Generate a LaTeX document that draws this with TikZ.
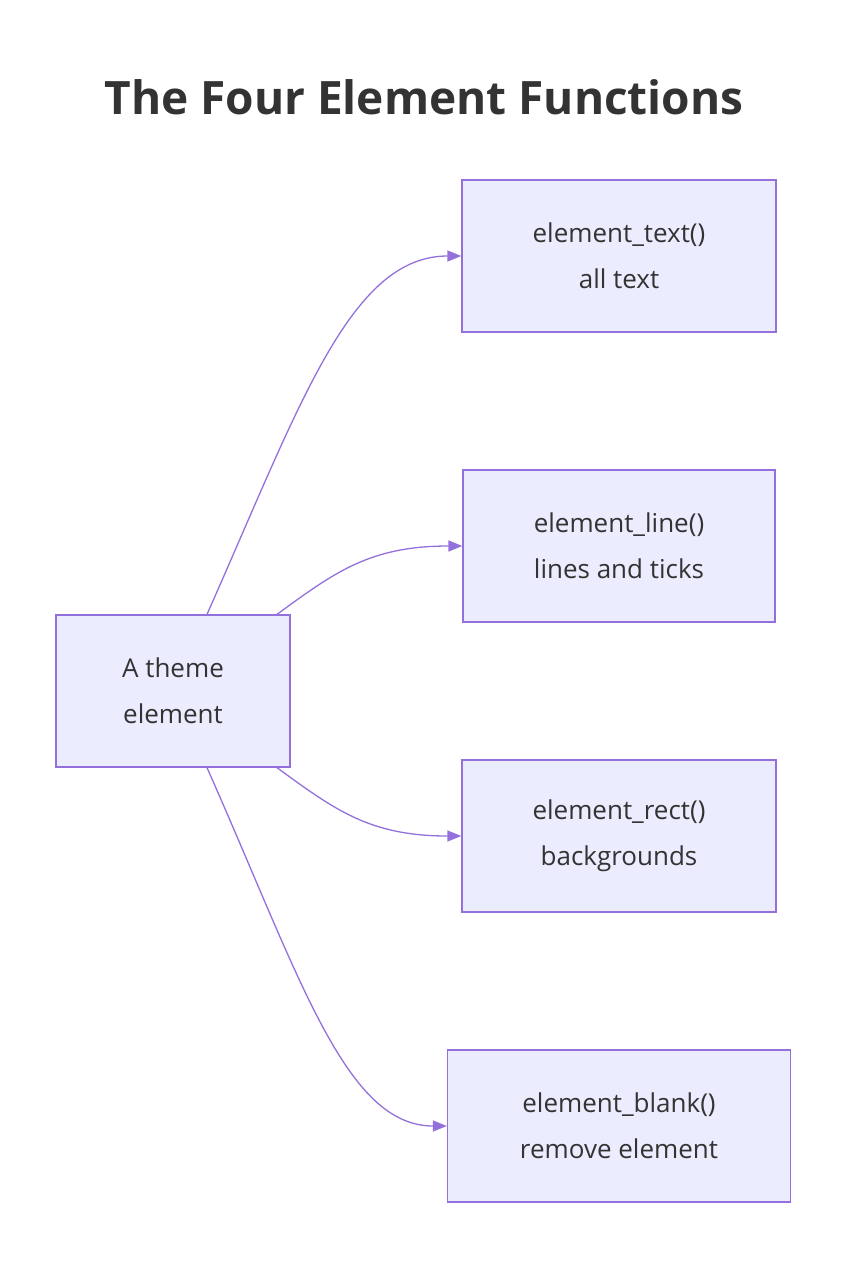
\documentclass[tikz,border=0pt]{standalone}
\usepackage{fontspec}
\setmainfont{Open Sans}
\usetikzlibrary{arrows.meta,positioning}
\definecolor{boxfill}{HTML}{ECECFF}
\definecolor{boxline}{HTML}{9370DB}
\definecolor{inktext}{HTML}{333333}
\tikzset{
  elem/.style={draw=boxline,fill=boxfill,line width=1.3pt,minimum height=152pt,
    align=center,text=inktext,font=\fontsize{26}{46}\selectfont},
  link/.style={draw=boxline,line width=1.3pt,-{Triangle[length=14pt,width=11pt]}}
}
\begin{document}
\begin{tikzpicture}[x=1pt,y=-1pt]
\useasboundingbox (0,0) rectangle (862,1282);

% Title
\node[text=inktext,font=\bfseries\fontsize{46}{52}\selectfont] (title) at (424,97) {The Four Element Functions};

% Nodes
\node[elem,minimum width=234pt] (theme) at (173,691) {A theme\\element};
\node[elem,minimum width=314pt] (text) at (619,256) {element\_text()\\all text};
\node[elem,minimum width=312pt] (line) at (619,546) {element\_line()\\lines and ticks};
\node[elem,minimum width=314pt] (rect) at (619,836) {element\_rect()\\backgrounds};
\node[elem,minimum width=343pt] (blank) at (619,1126) {element\_blank()\\remove element};

% Start points
\coordinate (s1) at ([xshift=34pt]theme.north);
\coordinate (s2) at ([xshift=104pt]theme.north);
\coordinate (s3) at ([xshift=104pt]theme.south);
\coordinate (s4) at ([xshift=34pt]theme.south);

% Connectors
\draw[link] (s1) .. controls (300,405) and (350,256) .. (text.west);
\draw[link] (s2) .. controls (335,572) and (370,546) .. (line.west);
\draw[link] (s3) .. controls (335,810) and (370,836) .. (rect.west);
\draw[link] (s4) .. controls (300,977) and (345,1126) .. (blank.west);

\end{tikzpicture}
\end{document}
